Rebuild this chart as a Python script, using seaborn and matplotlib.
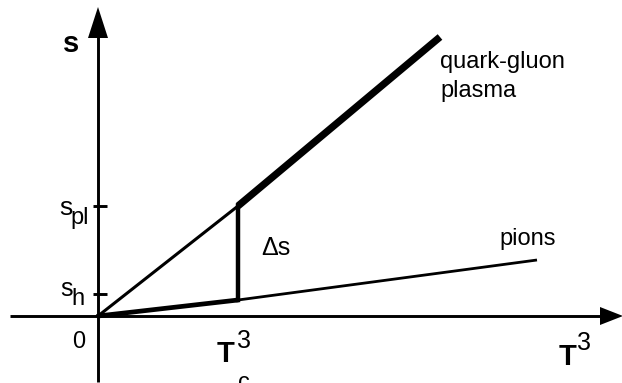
import matplotlib
matplotlib.use("Agg")
import matplotlib.pyplot as plt
import seaborn as sns

# ---- data (T^3 on x, entropy density s on y; arbitrary units) ----
T3_c = 140                      # transition point T_c^3
qgp_T = [0, 140, 342]           # quark-gluon plasma line
qgp_s = [0, 110, 279]
pion_T = [0, 140, 439]          # pion gas line
pion_s = [0, 16, 56]
s_pl = 110                      # tick: s at plasma side
s_h = 22                        # tick: s at hadron side
tick_vals = [s_h, s_pl]

sns.set_theme(style="white")
plt.rcParams["font.family"] = ["Liberation Sans", "DejaVu Sans"]

fig = plt.figure(figsize=(6.22, 3.83), dpi=100)
ax = fig.add_axes([0, 0, 1, 1])
ax.set_xlim(-98, 524)
ax.set_ylim(-67, 316)
ax.axis("off")

kw = dict(ax=ax, color="black", estimator=None, sort=False, legend=False)

# axes lines
ax.plot([-88, 505], [0, 0], color="black", lw=2.1, solid_capstyle="butt")
ax.plot([0, 0], [-66, 280], color="black", lw=2.1, solid_capstyle="butt")
# arrowheads
ax.fill([502, 525, 502], [-9, 0, 9], color="black", lw=0)
ax.fill([-10, 0, 10], [278, 309, 278], color="black", lw=0)

# ticks
for v in tick_vals:
    ax.plot([-5, 9], [v, v], color="black", lw=2.1, solid_capstyle="butt")

# lines: thin from origin to T_c, thick beyond/at transition
sns.lineplot(x=qgp_T[:2], y=qgp_s[:2], linewidth=2.2, solid_capstyle="round", **kw)
sns.lineplot(x=qgp_T[1:], y=qgp_s[1:], linewidth=5.2, solid_capstyle="butt", **kw)
sns.lineplot(x=pion_T[:2], y=pion_s[:2], linewidth=3.4, solid_capstyle="round", **kw)
sns.lineplot(x=pion_T[1:], y=pion_s[1:], linewidth=2.0, solid_capstyle="butt", **kw)
sns.lineplot(x=[T3_c, T3_c], y=[pion_s[1], qgp_s[1]], linewidth=3.2,
             solid_capstyle="projecting", **kw)

fs = 17
t = dict(color="black", va="baseline", ha="left")
ax.text(-35, 264, "s", fontsize=21, fontweight="bold", **t)
ax.text(-39, 101, "s", fontsize=19, **t)
ax.text(-28, 92, "pl", fontsize=fs, **t)
ax.text(-38, 20, "s", fontsize=18, **t)
ax.text(-27, 11, "h", fontsize=fs, **t)
ax.text(-19, -32, "0", fontsize=fs, color="black", va="baseline", ha="center")
ax.text(163, 61, "\u0394s", fontsize=18, **t)
ax.text(342, 248, "quark-gluon", fontsize=fs, **t)
ax.text(342, 219, "plasma", fontsize=fs, **t)
ax.text(401, 71, "pions", fontsize=fs, **t)
ax.text(119, -46, "T", fontsize=21, fontweight="bold", **t)
ax.text(139, -32, "3", fontsize=18, **t)
ax.text(140, -73, "c", fontsize=fs, **t)
ax.text(461, -49, "T", fontsize=21, fontweight="bold", **t)
ax.text(479, -34, "3", fontsize=18, **t)

fig.savefig("out.png", dpi=100, facecolor="white")
